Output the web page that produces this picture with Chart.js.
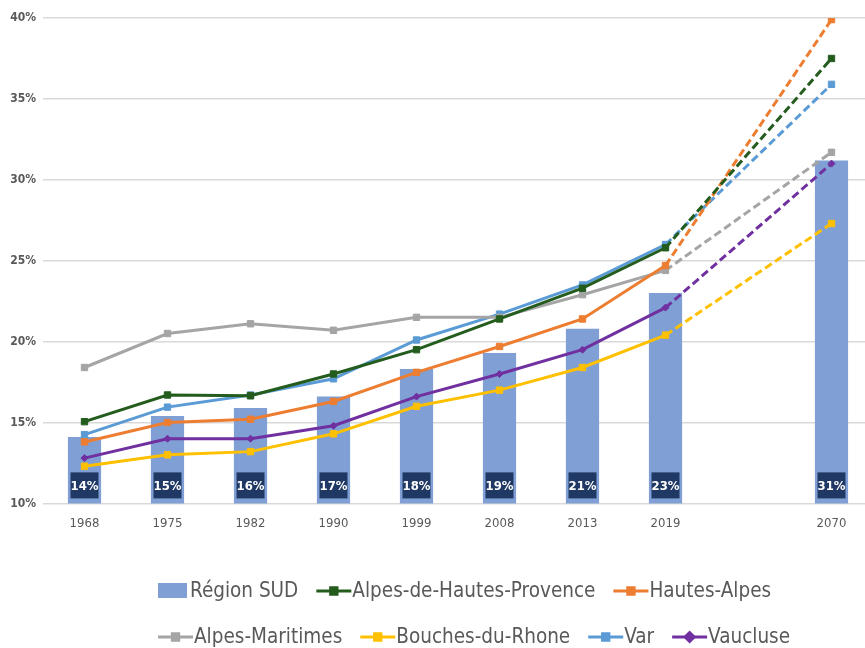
<!DOCTYPE html>
<html>
<head>
<meta charset="utf-8">
<script src="https://cdn.jsdelivr.net/npm/chart.js@4.4.1/dist/chart.umd.min.js"></script>
<style>
  html, body { margin: 0; padding: 0; background: #fff; overflow: hidden; }
  #wrap { width: 880px; height: 648px; }
</style>
</head>
<body>
<div id="wrap"><canvas id="chart" width="880" height="648"></canvas></div>
<script>
// categories (empty slot between 2019 and 2070 keeps the time gap)
const years = ['1968', '1975', '1982', '1990', '1999', '2008', '2013', '2019', '', '2070'];

// share of the population, in %
const regionSud      = [14.1, 15.4, 15.9, 16.6, 18.3, 19.3, 20.8, 23.0, null, 31.2];
const ahp            = [15.05, 16.7, 16.65, 18.0, 19.5, 21.4, 23.3, 25.8, null, 37.5];
const hautesAlpes    = [13.8, 15.0, 15.2, 16.3, 18.1, 19.7, 21.4, 24.7, null, 39.9];
const alpesMaritimes = [18.4, 20.5, 21.1, 20.7, 21.5, 21.5, 22.9, 24.4, null, 31.7];
const bouchesDuRhone = [12.3, 13.0, 13.2, 14.3, 16.0, 17.0, 18.4, 20.4, null, 27.3];
const varDept        = [14.25, 15.95, 16.7, 17.7, 20.1, 21.7, 23.5, 26.0, null, 35.9];
const vaucluse       = [12.8, 14.0, 14.0, 14.8, 16.6, 18.0, 19.5, 22.1, null, 31.0];

const yTicks = [10, 15, 20, 25, 30, 35, 40];

const FONT = '"Liberation Sans Narrow", "DejaVu Sans Condensed", sans-serif';
const TEXT = '#595959';
const BAR_COLOR = '#7F9FD5';
const LABEL_BOX = '#1F3864';

const LAST = years.length - 1;

function lineSet(label, data, color, style) {
    const diamond = style === 'rectRot';
    return {
        type: 'line',
        label,
        data,
        order: 1,
        borderColor: color,
        backgroundColor: color,
        borderWidth: 3,
        tension: 0,
        spanGaps: true,
        pointStyle: style || 'rect',
        pointRadius: diamond ? 3.5 : 4.5,
        pointBorderWidth: 1,
        pointBackgroundColor: color,
        pointBorderColor: color,
        segment: {
            borderDash: ctx => ctx.p1DataIndex === LAST ? [8, 4] : undefined
        }
    };
}

/* ── value boxes at the foot of each bar ────────── */
const barLabels = {
    id: 'barLabels',
    afterDatasetDraw(chart, args) {
        if (args.index !== 0) return;
        const { ctx, chartArea } = chart;
        ctx.save();
        ctx.font = 'bold 13px ' + FONT;
        ctx.textAlign = 'center';
        ctx.textBaseline = 'middle';
        args.meta.data.forEach((bar, i) => {
            const v = regionSud[i];
            if (v == null) return;
            const w = 28, h = 26;
            const top = chartArea.bottom - 5 - h;
            ctx.fillStyle = LABEL_BOX;
            ctx.fillRect(bar.x - w / 2, top, w, h);
            ctx.fillStyle = '#fff';
            ctx.fillText(Math.round(v) + '%', bar.x, top + h / 2 + 1);
        });
        ctx.restore();
    }
};

/* ── Excel-like legend, two left-aligned rows ───── */
const legendRows = [[0, 1, 2], [3, 4, 5, 6]];
const customLegend = {
    id: 'customLegend',
    afterDraw(chart) {
        const { ctx } = chart;
        ctx.save();
        ctx.font = '20.5px ' + FONT;
        ctx.textBaseline = 'middle';
        legendRows.forEach((row, r) => {
            let x = 158;
            const y = 591 + r * 46;
            row.forEach(i => {
                const ds = chart.data.datasets[i];
                if (ds.type === 'bar') {
                    ctx.fillStyle = ds.backgroundColor;
                    ctx.fillRect(x, y - 8, 29, 15);
                    x += 32;
                } else {
                    ctx.strokeStyle = ds.borderColor;
                    ctx.lineWidth = 3;
                    ctx.beginPath();
                    ctx.moveTo(x, y);
                    ctx.lineTo(x + 35, y);
                    ctx.stroke();
                    Chart.helpers.drawPoint(ctx, {
                        pointStyle: ds.pointStyle,
                        radius: 4.5,
                        borderWidth: 1
                    }, x + 17.5, y);
                    ctx.fillStyle = ds.borderColor;
                    ctx.fill();
                    x += 36;
                }
                ctx.fillStyle = TEXT;
                ctx.fillText(ds.label, x, y + 1);
                x += ctx.measureText(ds.label).width + 18;
            });
        });
        ctx.restore();
    }
};

new Chart(document.getElementById('chart').getContext('2d'), {
    data: {
        labels: years,
        datasets: [
            {
                type: 'bar',
                label: 'Région SUD',
                data: regionSud,
                order: 2,
                backgroundColor: BAR_COLOR,
                categoryPercentage: 1,
                barPercentage: 0.4
            },
            lineSet('Alpes-de-Hautes-Provence', ahp, '#245C1E'),
            lineSet('Hautes-Alpes', hautesAlpes, '#ED7D31'),
            lineSet('Alpes-Maritimes', alpesMaritimes, '#A5A5A5'),
            lineSet('Bouches-du-Rhone', bouchesDuRhone, '#FFC000'),
            lineSet('Var', varDept, '#5B9BD5'),
            lineSet('Vaucluse', vaucluse, '#7030A0', 'rectRot')
        ]
    },
    options: {
        responsive: false,
        animation: false,
        devicePixelRatio: 1,
        layout: { padding: { top: 18, right: 7, bottom: 105, left: 0 } },
        plugins: {
            legend: { display: false },
            tooltip: { enabled: false }
        },
        scales: {
            x: {
                offset: true,
                grid: { display: false, drawTicks: false },
                border: { display: false },
                ticks: { color: TEXT, font: { family: FONT, size: 13 }, padding: 12, autoSkip: false, maxRotation: 0 }
            },
            y: {
                min: yTicks[0],
                max: yTicks[yTicks.length - 1],
                afterBuildTicks: scale => { scale.ticks = yTicks.map(v => ({ value: v })); },
                afterFit: scale => { scale.width = 43; },
                grid: { color: '#D9D9D9', lineWidth: 1.5, drawTicks: false },
                border: { display: false },
                ticks: { color: TEXT, font: { family: FONT, size: 12, weight: 'bold' }, padding: 7, callback: v => v + '%' }
            }
        }
    },
    plugins: [barLabels, customLegend]
});
</script>
</body>
</html>
